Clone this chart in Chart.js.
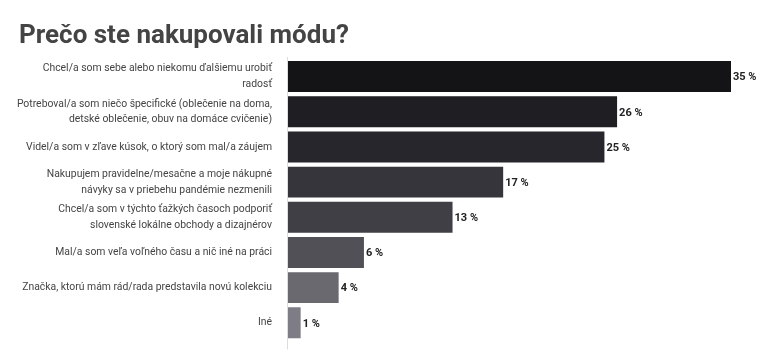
<!DOCTYPE html>
<html><head><meta charset="utf-8">
<script src="https://cdn.jsdelivr.net/npm/chart.js@4/dist/chart.umd.min.js"></script>
<style>html,body{margin:0;padding:0;background:#fff}
#w{position:relative;width:768px;height:364px}
#t{position:absolute;left:19px;top:19px;margin:0;font:bold 26px/30px Roboto,sans-serif;color:#444;white-space:nowrap}
#c{position:absolute;left:0;top:0}</style>
</head><body><div id="w"><canvas id="c" width="768" height="364"></canvas><h1 id="t"></h1></div>
<script>
const title = "Prečo ste nakupovali módu?";
const categories = [
  ["Chcel/a som sebe alebo niekomu ďalšiemu urobiť", "radosť"],
  ["Potreboval/a som niečo špecifické (oblečenie na doma,", "detské oblečenie, obuv na domáce cvičenie)"],
  "Videl/a som v zľave kúsok, o ktorý som mal/a záujem",
  ["Nakupujem pravidelne/mesačne a moje nákupné", "návyky sa v priebehu pandémie nezmenili"],
  ["Chcel/a som v týchto ťažkých časoch podporiť", "slovenské lokálne obchody a dizajnérov"],
  "Mal/a som veľa voľného času a nič iné na práci",
  "Značka, ktorú mám rád/rada predstavila novú kolekciu",
  "Iné"
];
const values = [35, 26, 25, 17, 13, 6, 4, 1];
const barColors = ["#141417", "#1f1e22", "#27262c", "#36353b", "#403f45", "#515056", "#6a696f", "#7e7d86"];

document.getElementById('t').textContent = title;

const valueLabels = {
  id: 'valueLabels',
  afterDatasetsDraw(chart) {
    const ctx = chart.ctx;
    const meta = chart.getDatasetMeta(0);
    ctx.save();
    ctx.font = "bold 11px Roboto";
    ctx.fillStyle = "#222";
    ctx.textAlign = "left";
    ctx.textBaseline = "middle";
    meta.data.forEach((bar, i) => {
      ctx.fillText(values[i] + " %", bar.x + 2, bar.y + 1);
    });
    ctx.restore();
  }
};

const axisLine = {
  id: 'axisLine',
  beforeDatasetsDraw(chart) {
    const ctx = chart.ctx, a = chart.chartArea;
    ctx.save();
    ctx.strokeStyle = '#dddddd';
    ctx.lineWidth = 1;
    ctx.beginPath();
    ctx.moveTo(a.left - 0.5, a.top - 2);
    ctx.lineTo(a.left - 0.5, a.bottom + 9);
    ctx.stroke();
    ctx.restore();
  }
};

new Chart(document.getElementById('c'), {
  type: 'bar',
  data: {
    labels: categories,
    datasets: [{
      data: values,
      backgroundColor: barColors,
      borderWidth: 0,
      barPercentage: 0.88,
      categoryPercentage: 1
    }]
  },
  plugins: [valueLabels, axisLine],
  options: {
    indexAxis: 'y',
    responsive: false,
    animation: false,
    layout: { padding: { left: 0, right: 37, top: 59, bottom: 22 } },
    plugins: {
      legend: { display: false },
      tooltip: { enabled: false },
      title: { display: false }
    },
    scales: {
      x: { display: false, min: 0, max: 35 },
      y: {
        grid: { display: false },
        border: { display: false },
        ticks: {
          color: '#444',
          font: { family: 'Roboto', size: 10.4, lineHeight: 1.5 },
          padding: 8,
          autoSkip: false
        },
        afterFit(scale) { scale.width = 288; }
      }
    }
  }
});
</script></body></html>
